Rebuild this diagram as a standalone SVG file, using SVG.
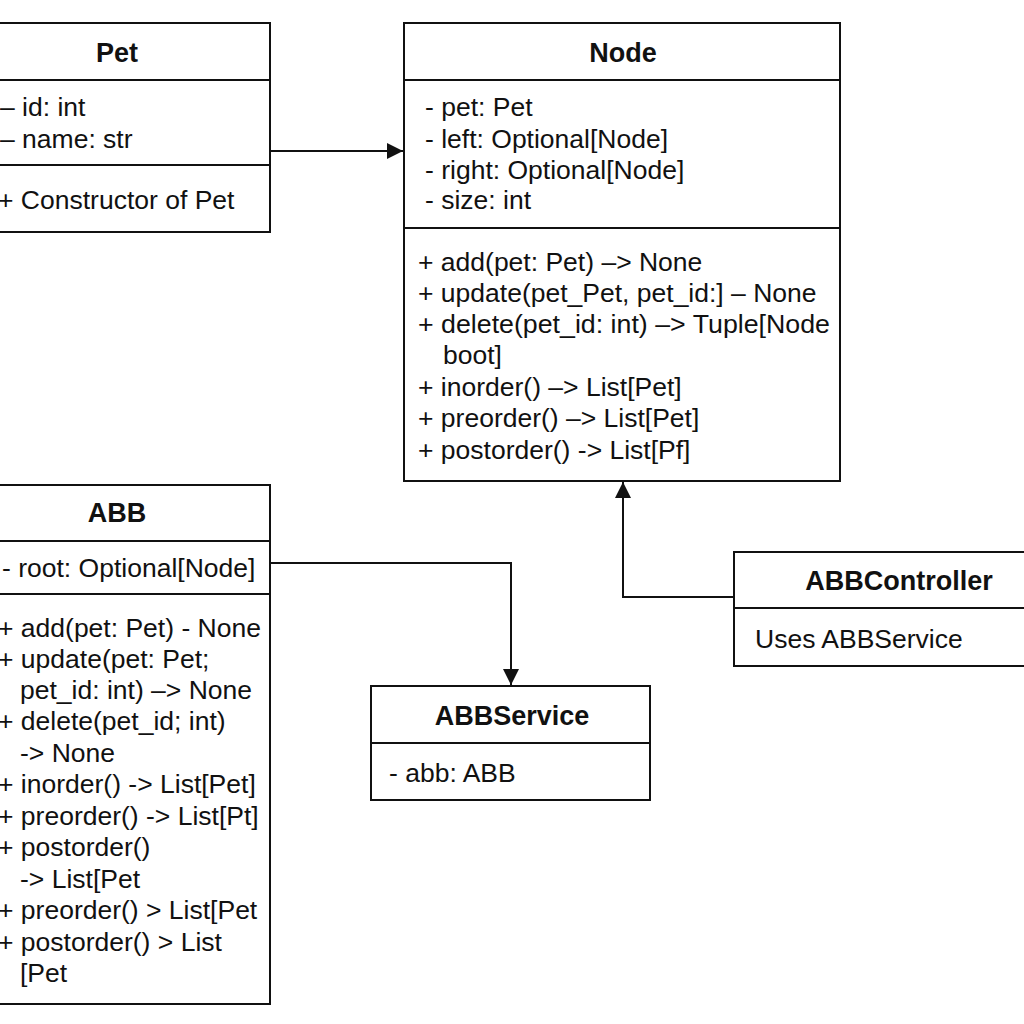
<svg xmlns="http://www.w3.org/2000/svg" width="1024" height="1024" viewBox="0 0 1024 1024">
<defs>
<style>
.box{fill:#fff;stroke:#111;stroke-width:2}
.div{stroke:#111;stroke-width:2}
.t{font-family:"Liberation Sans",Arial,sans-serif;font-size:26.5px;fill:#111}
.h{font-family:"Liberation Sans",Arial,sans-serif;font-size:27px;font-weight:bold;fill:#111;text-anchor:middle}
.c{fill:none;stroke:#111;stroke-width:2}
</style>
<marker id="arr" markerWidth="16" markerHeight="16" refX="16" refY="8" orient="auto" markerUnits="userSpaceOnUse">
<path d="M0,0 L16,8 L0,16 Z" fill="#111"/>
</marker>
</defs>
<rect width="1024" height="1024" fill="#fff"/>
<g id="connectors">
<path class="c" d="M270,151 H403" marker-end="url(#arr)"/>
<path class="c" d="M270,563 H511 V685" marker-end="url(#arr)"/>
<path class="c" d="M734,597 H623 V482" marker-end="url(#arr)"/>
</g>
<g id="Pet">
<rect class="box" x="-10" y="23" width="280" height="209"/>
<line class="div" x1="-10" y1="80" x2="270" y2="80"/>
<line class="div" x1="-10" y1="165" x2="270" y2="165"/>
<text class="h" x="117" y="62">Pet</text>
<text class="t" x="0" y="116">– id: int</text>
<text class="t" x="0" y="148">– name: str</text>
<text class="t" x="-2" y="209">+ Constructor of Pet</text>
</g>
<g id="Node">
<rect class="box" x="404" y="23" width="436" height="458"/>
<line class="div" x1="404" y1="80" x2="840" y2="80"/>
<line class="div" x1="404" y1="228" x2="840" y2="228"/>
<text class="h" x="623" y="62">Node</text>
<text class="t" x="425" y="116">- pet: Pet</text>
<text class="t" x="425" y="148">- left: Optional[Node]</text>
<text class="t" x="425" y="179">- right: Optional[Node]</text>
<text class="t" x="425" y="209">- size: int</text>
<text class="t" x="418" y="271">+ add(pet: Pet) –&gt; None</text>
<text class="t" x="418" y="302">+ update(pet_Pet, pet_id:] – None</text>
<text class="t" x="418" y="333" textLength="412" lengthAdjust="spacingAndGlyphs">+ delete(pet_id: int) –&gt; Tuple[Node</text>
<text class="t" x="443" y="364">boot]</text>
<text class="t" x="418" y="396">+ inorder() –&gt; List[Pet]</text>
<text class="t" x="418" y="427">+ preorder() –&gt; List[Pet]</text>
<text class="t" x="418" y="459">+ postorder() -&gt; List[Pf]</text>
</g>
<g id="ABB">
<rect class="box" x="-10" y="485" width="280" height="519"/>
<line class="div" x1="-10" y1="541" x2="270" y2="541"/>
<line class="div" x1="-10" y1="594" x2="270" y2="594"/>
<text class="h" x="117" y="522">ABB</text>
<text class="t" x="2" y="577">- root: Optional[Node]</text>
<text class="t" x="-2" y="637">+ add(pet: Pet) - None</text>
<text class="t" x="-2" y="668">+ update(pet: Pet;</text>
<text class="t" x="20" y="699">pet_id: int) –&gt; None</text>
<text class="t" x="-2" y="730">+ delete(pet_id; int)</text>
<text class="t" x="20" y="762">-&gt; None</text>
<text class="t" x="-2" y="793">+ inorder() -&gt; List[Pet]</text>
<text class="t" x="-2" y="825">+ preorder() -&gt; List[Pt]</text>
<text class="t" x="-2" y="856">+ postorder()</text>
<text class="t" x="20" y="888">-&gt; List[Pet</text>
<text class="t" x="-2" y="919">+ preorder() &gt; List[Pet</text>
<text class="t" x="-2" y="951">+ postorder() &gt; List</text>
<text class="t" x="20" y="982">[Pet</text>
</g>
<g id="ABBService">
<rect class="box" x="371" y="686" width="279" height="114"/>
<line class="div" x1="371" y1="743" x2="650" y2="743"/>
<text class="h" x="512" y="725">ABBService</text>
<text class="t" x="389" y="782">- abb: ABB</text>
</g>
<g id="ABBController">
<rect class="box" x="734" y="552" width="300" height="114"/>
<line class="div" x1="734" y1="608" x2="1034" y2="608"/>
<text class="h" x="899" y="590">ABBController</text>
<text class="t" x="755" y="648">Uses ABBService</text>
</g>
</svg>
